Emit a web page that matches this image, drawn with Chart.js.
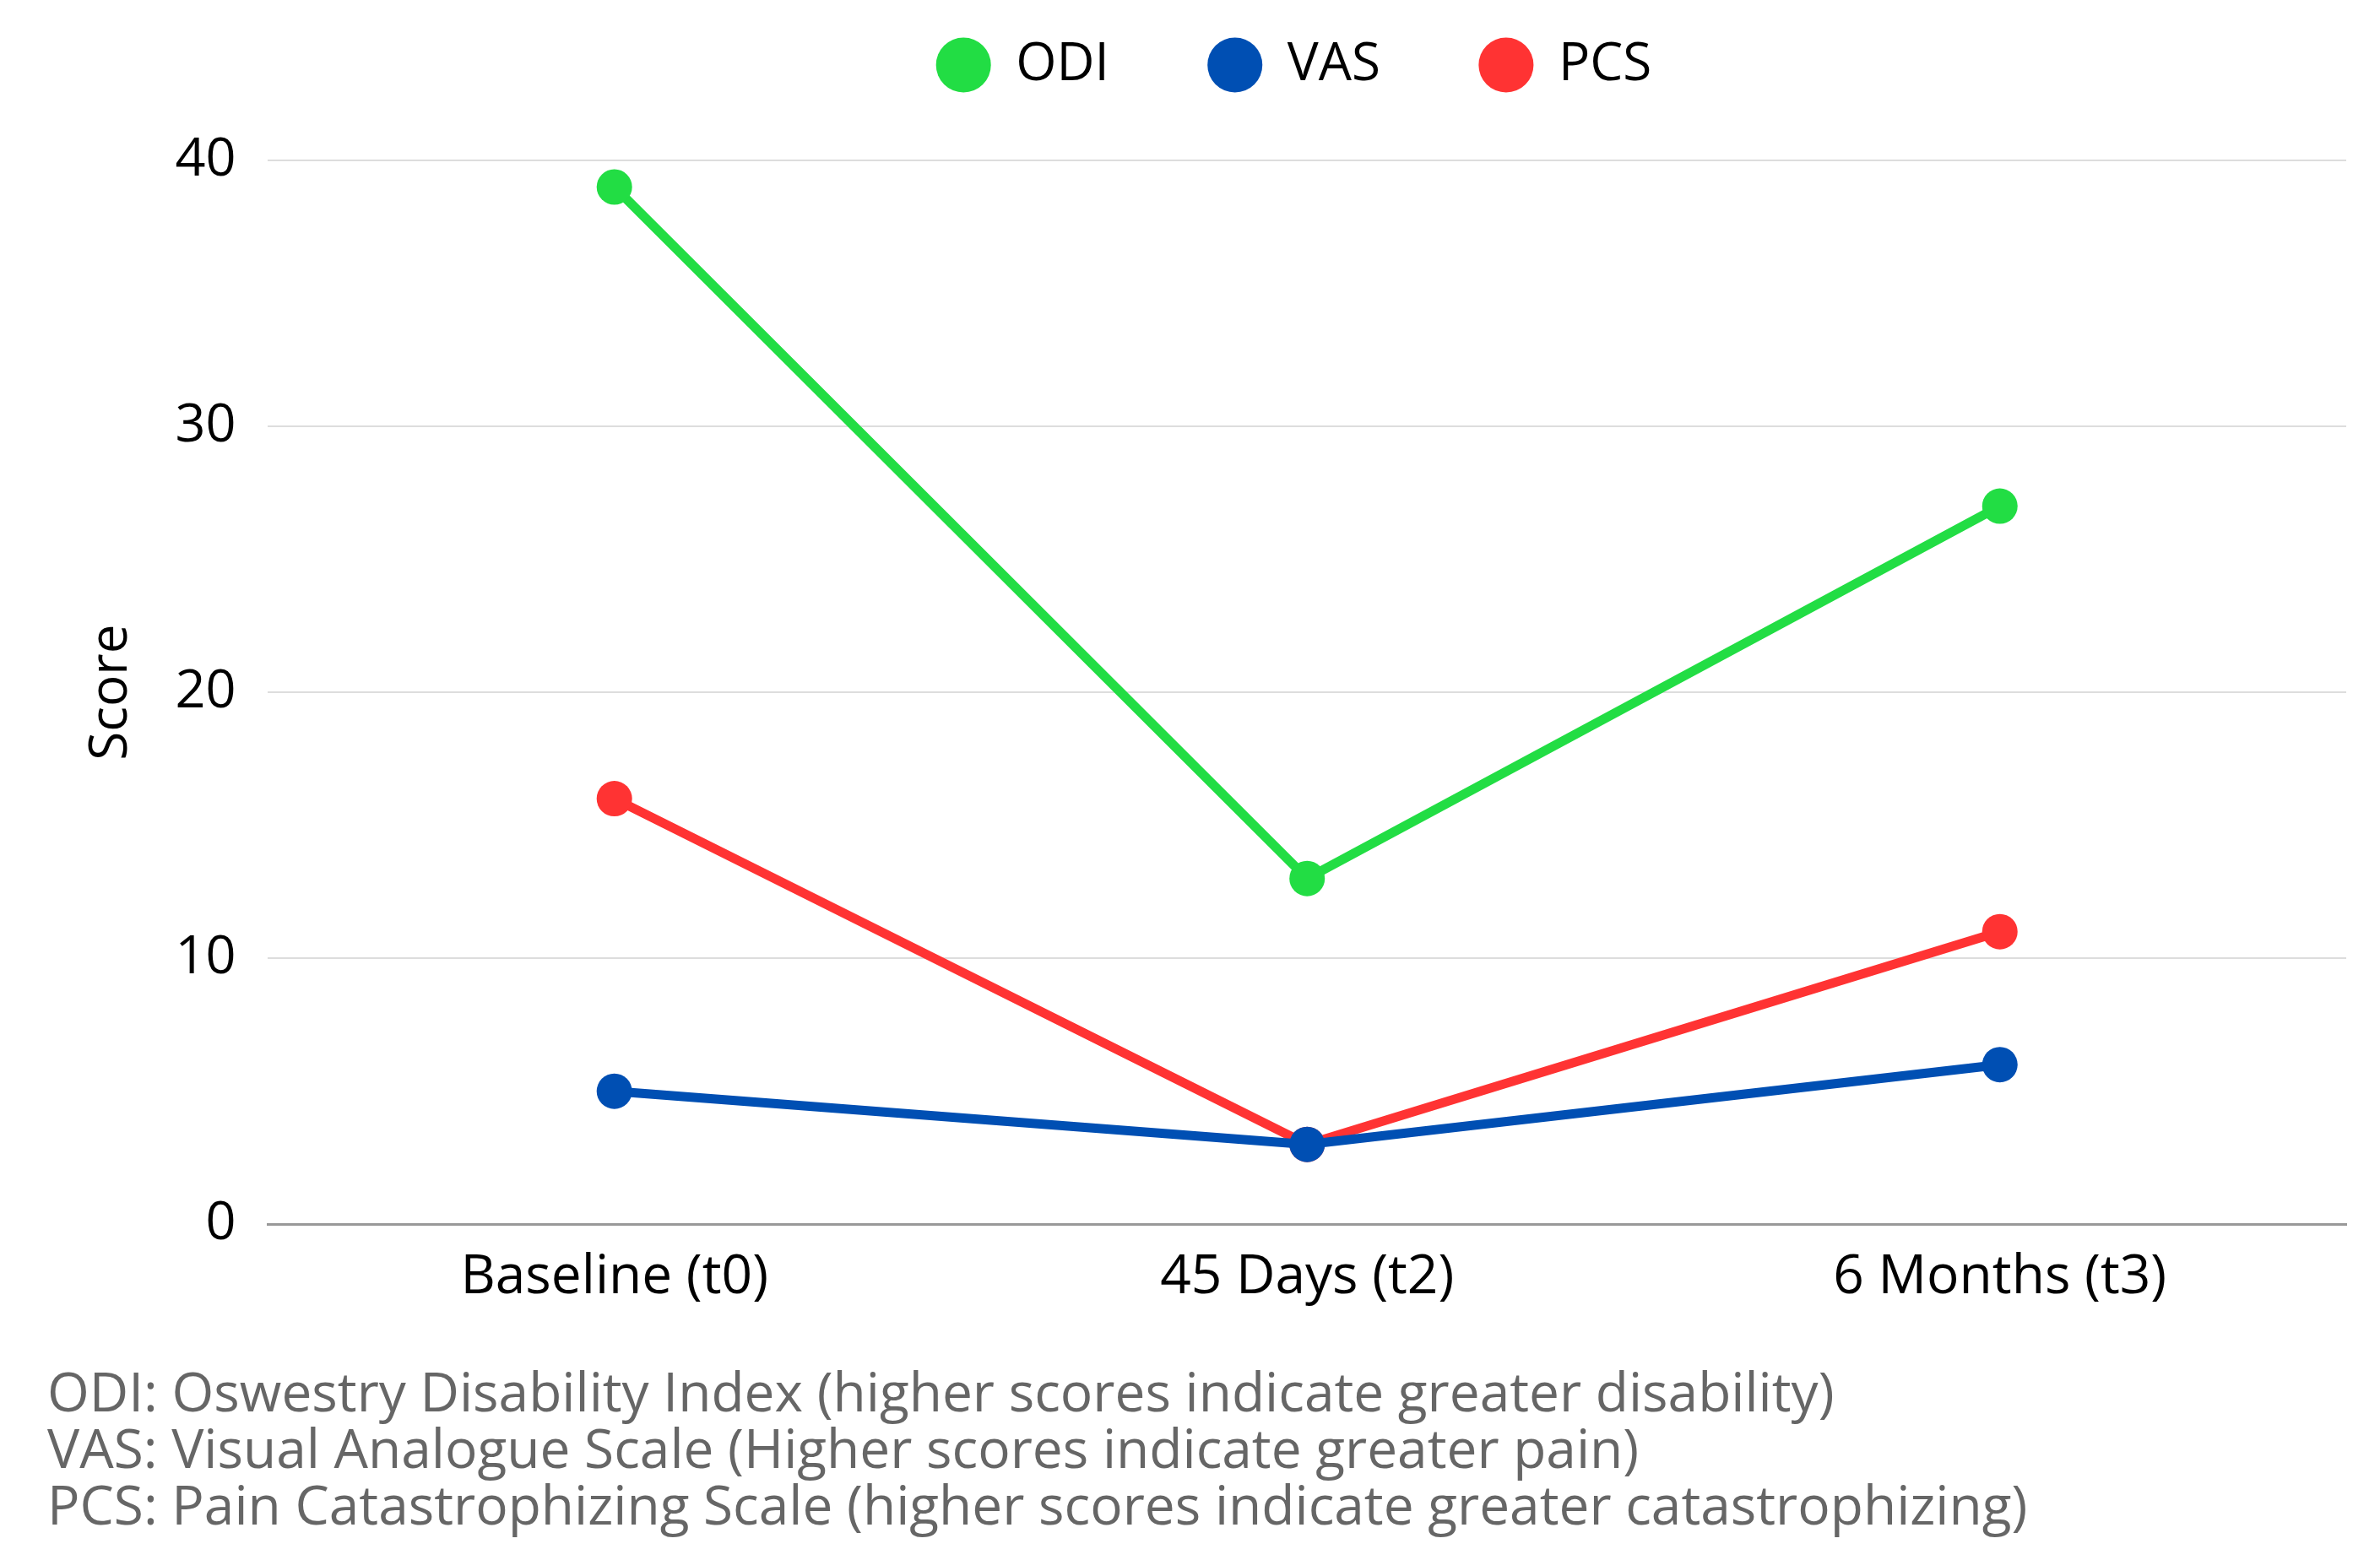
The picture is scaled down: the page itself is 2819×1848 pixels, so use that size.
<!DOCTYPE html>
<html>
<head>
<meta charset="utf-8">
<script src="https://cdn.jsdelivr.net/npm/chart.js@4/dist/chart.umd.min.js"></script>
<style>
  html, body { margin: 0; padding: 0; background: #fff; }
  #wrap { position: relative; width: 2819px; height: 1848px; }
  #notes {
    position: absolute; left: 56px; top: 1614px;
    font-family: "Open Sans", sans-serif; font-size: 64px; line-height: 67px;
    color: #666; white-space: nowrap;
  }
</style>
</head>
<body>
<div id="wrap">
  <canvas id="chart" width="2819" height="1848"></canvas>
  <div id="notes"></div>
</div>
<script>
// chart data
const labels = ["Baseline (t0)", "45 Days (t2)", "6 Months (t3)"];
const odi = [39, 13, 27];
const vas = [5, 3, 6];
const pcs = [16, 3, 11];
const yTicks = [0, 10, 20, 30, 40];
const notes = [
  "ODI: Oswestry Disability Index (higher scores indicate greater disability)",
  "VAS: Visual Analogue Scale (Higher scores indicate greater pain)",
  "PCS: Pain Catastrophizing Scale (higher scores indicate greater catastrophizing)"
];

document.getElementById("notes").innerHTML = notes.join("<br>");

Chart.defaults.font.family = '"Open Sans", sans-serif';
Chart.defaults.color = "#000";

function series(label, data, color) {
  return {
    label,
    data,
    borderColor: color,
    backgroundColor: color,
    borderWidth: 11,
    pointRadius: 21,
    pointHoverRadius: 21,
    pointBorderWidth: 0,
    tension: 0
  };
}

// legend sits above the plot area, with a gap under it
const legendPlace = {
  id: "legendPlace",
  beforeInit(chart) {
    const fit = chart.legend.fit;
    chart.legend.fit = function () {
      fit.call(this);
      this.height = 190;
    };
  },
  afterLayout(chart) {
    const lg = chart.legend;
    lg.left = chart.chartArea.left - 15;
    lg.right = chart.chartArea.right - 15;
    lg.width = lg.right - lg.left;
    lg.top = 46 - lg.options.labels.padding;
  }
};

const context = document.getElementById("chart").getContext("2d");
const line = new Chart(context, {
  type: "line",
  data: {
    labels,
    datasets: [
      series("ODI", odi, "#22dd44"),
      series("VAS", vas, "#004fb3"),
      series("PCS", pcs, "#ff3333")
    ]
  },
  options: {
    responsive: false,
    devicePixelRatio: 1,
    animation: false,
    layout: { padding: { left: 95, right: 40, top: 0, bottom: 279 } },
    plugins: {
      legend: {
        position: "top",
        labels: {
          usePointStyle: true,
          pointStyle: "circle",
          boxHeight: 46,
          boxWidth: 62,
          padding: 118,
          font: { size: 62 }
        }
      },
      tooltip: { enabled: false }
    },
    scales: {
      x: {
        offset: true,
        grid: { display: false },
        border: { color: "#999", width: 3 },
        ticks: { font: { size: 64 }, padding: 17 }
      },
      y: {
        min: 0,
        max: 40,
        afterBuildTicks: axis => { axis.ticks = yTicks.map(v => ({ value: v })); },
        grid: { color: "#ddd", lineWidth: 2, drawTicks: false },
        border: { display: false },
        ticks: { font: { size: 63 }, padding: 38 },
        title: { display: true, text: "Score", font: { size: 62 }, padding: 0 }
      }
    }
  },
  plugins: [legendPlace]
});
</script>
</body>
</html>
